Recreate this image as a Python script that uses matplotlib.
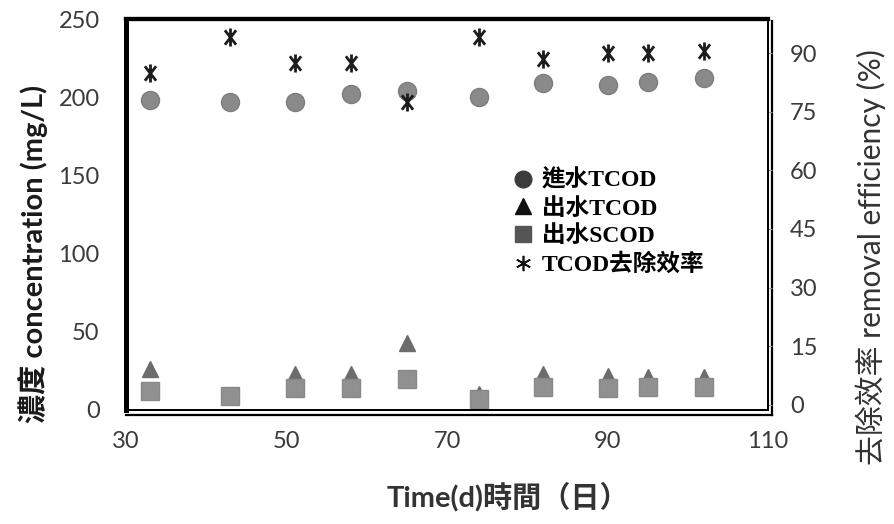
import matplotlib
matplotlib.use("Agg")
import matplotlib.pyplot as plt
from matplotlib.path import Path
from matplotlib.lines import Line2D

# values
days = [33, 43, 51, 58, 65, 74, 82, 90, 95, 102]
inf_tcod = [198, 197, 197, 202, 204, 200, 209, 208, 210, 212]
eff_tcod = [26, 9, 23, 23, 43, 10.5, 23, 22, 21, 21]
eff_scod = [12, 9, 14, 14, 20, 7, 15, 14, 15, 14.5]
removal = [85, 94, 87.5, 87.5, 77.5, 94, 88.5, 90, 90, 90.5]

x_ticks = [30, 50, 70, 90, 110]
left_ticks = [0, 50, 100, 150, 200, 250]
right_ticks = [0, 15, 30, 45, 60, 75, 90]
legend_labels = ["進水TCOD", "出水TCOD", "出水SCOD", "TCOD去除效率"]

sans = ["Lato", "Noto Sans CJK TC", "DejaVu Sans"]
serif = ["Liberation Serif", "Noto Sans CJK TC", "DejaVu Sans"]
plt.rcParams["font.family"] = sans

# asterisk: vertical bar plus a steep X
star = Path([(0, -1), (0, 1), (-0.62, -0.8), (0.62, 0.8), (-0.62, 0.8), (0.62, -0.8)],
            [Path.MOVETO, Path.LINETO] * 3)

fig = plt.figure(figsize=(8.94, 5.24), dpi=100)
ax = fig.add_axes([126 / 894, 1 - 410 / 524, 642 / 894, 391 / 524])
ax2 = ax.twinx()

ax.plot(days, inf_tcod, 'o', ms=13, color='#8a8a8a', mec='#7d7d7d', zorder=3)
ax.plot(days, eff_tcod, '^', ms=12, color='#6c6c6c', mec='#6c6c6c', zorder=3)
ax.plot(days, eff_scod, 's', ms=12.5, color='#909090', mec='#888888', zorder=4)
ax2.plot(days, removal, ls='none', marker=star, ms=13, mew=2.0, color='#1c1c1c')

ax.set_xlim(30, 110)
ax.set_ylim(0, 250)
ax2.set_ylim(-1.3, 98.7)
ax.set_xticks(x_ticks)
ax.set_yticks(left_ticks)
ax2.set_yticks(right_ticks)

ax.tick_params(axis='x', length=0, pad=15, labelsize=17, labelcolor='#3a3a3a')
ax.tick_params(axis='y', length=0, pad=19, labelsize=17, labelcolor='#3a3a3a')
ax2.tick_params(axis='y', length=3, width=0.8, color='#999999', pad=13,
                labelsize=17, labelcolor='#3a3a3a')

for a in (ax, ax2):
    a.spines['left'].set_linewidth(3.6)
    a.spines['top'].set_linewidth(3.0)
    a.spines['bottom'].set_linewidth(1.4)
    a.spines['right'].set_linewidth(1.4)

# second line of the double frame at the bottom and right
ax.add_line(Line2D([0, 1.006], [-0.012, -0.012], transform=ax.transAxes,
                   color='black', lw=1.6, clip_on=False))
ax.add_line(Line2D([1.006, 1.006], [-0.012, 0.995], transform=ax.transAxes,
                   color='black', lw=1.6, clip_on=False))

ax.set_ylabel("濃度 concentration (mg/L)", family=sans, fontsize=21,
              fontweight='bold', color='#1a1a1a', va='center')
ax.yaxis.set_label_coords(-0.145, 0.40)
ax2.set_ylabel("去除效率 removal efficiency (%)", family=sans, fontsize=21.5,
               color='#333333', rotation=90, va='center')
ax2.yaxis.set_label_coords(1.160, 0.391)
ax.set_xlabel("Time(d)時間（日）", family=sans, fontsize=21, fontweight='bold',
              color='#333333', va='center')
ax.xaxis.set_label_coords(0.595, -0.2225)

handles = [
    Line2D([], [], ls='none', marker='o', ms=12, color='#3c3c3c'),
    Line2D([], [], ls='none', marker='^', ms=12, color='#111111'),
    Line2D([], [], ls='none', marker='s', ms=11, color='#555555'),
    Line2D([], [], ls='none', marker=(6, 2, 0), ms=11, mew=1.2, color='#111111'),
]
ax.legend(handles, legend_labels, loc='upper left', bbox_to_anchor=(0.6, 0.615),
          frameon=False, handlelength=1.0, handletextpad=0.3, labelspacing=0.25,
          borderpad=0, borderaxespad=0,
          prop={'family': serif, 'weight': 'bold', 'size': 17})

fig.savefig("out.png", dpi=100)
